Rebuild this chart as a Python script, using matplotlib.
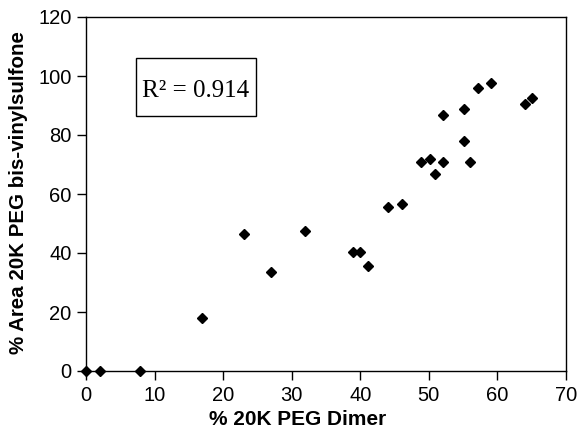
import matplotlib
matplotlib.use("Agg")
import matplotlib.pyplot as plt
from matplotlib.patches import Rectangle

# % 20K PEG dimer vs % area 20K PEG bis-vinylsulfone
dimer = [0.0, 2.0, 7.9, 16.9, 23.1, 27.0, 32.0, 39.0, 40.0, 41.1, 44.1, 46.1,
         48.9, 50.1, 50.9, 52.0, 52.0, 55.1, 55.1, 56.0, 57.1, 59.1, 64.0, 65.0]
area = [0.0, 0.0, 0.0, 17.8, 46.6, 33.7, 47.6, 40.5, 40.5, 35.7, 55.6, 56.5,
        70.9, 71.9, 66.9, 70.9, 86.7, 88.7, 77.8, 70.9, 95.8, 97.7, 90.5, 92.6]
r_squared = 0.914

xticks = [0, 10, 20, 30, 40, 50, 60, 70]
yticks = [0, 20, 40, 60, 80, 100, 120]

W, H = 584, 430
fig = plt.figure(figsize=(W / 100, H / 100), dpi=100)
# axes box in pixels: left 86, right 566, top 17, bottom 371
ax = fig.add_axes([86 / W, (H - 371) / H, 480 / W, 354 / H])

ax.plot(dimer, area, "D", color="black", ms=5.3, clip_on=False, zorder=3)

ax.set_xlim(0, 70)
ax.set_ylim(0, 120)
ax.set_xticks(xticks)
ax.set_yticks(yticks)
ax.tick_params(direction="out", length=6.3, width=1, labelsize=14.5,
               colors="black")
ax.tick_params(axis="x", pad=4.8)
ax.tick_params(axis="y", pad=4)
for lab in ax.get_xticklabels() + ax.get_yticklabels():
    lab.set_family("Liberation Sans")
for sp in ax.spines.values():
    sp.set_linewidth(1.0)

ax.set_xlabel("% 20K PEG Dimer", family="Liberation Sans", fontsize=15,
              fontweight="bold")
ax.set_ylabel("% Area 20K PEG bis-vinylsulfone", family="Liberation Sans",
              fontsize=14.8, fontweight="bold")
ax.xaxis.set_label_coords(0.44, -0.11)
ax.yaxis.set_label_coords(-0.12, 0.505)

# R^2 annotation box
ax.add_patch(Rectangle((0.104, 0.72), 0.25, 0.165, transform=ax.transAxes,
                       fill=False, ec="black", lw=1, clip_on=False))
ax.text(0.229, 0.773, "R\u00b2 = %.3f" % r_squared, transform=ax.transAxes,
        family="Liberation Serif", fontsize=18, va="baseline", ha="center")

fig.savefig("out.png", dpi=100)
